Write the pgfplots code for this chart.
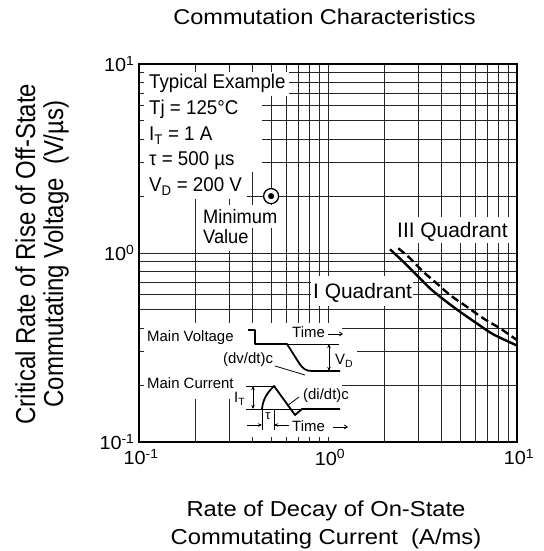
\documentclass[border=0pt]{standalone}
\usepackage{fontspec}
\setmainfont{Liberation Sans}
\newfontfamily\fWide{Liberation Sans}[FakeStretch=1.1]
\newfontfamily\fTick{Liberation Sans}[FakeStretch=1.05]
\newfontfamily\fNarrow{Liberation Sans}[FakeStretch=0.94]
\newfontfamily\fYlab{Liberation Sans}[FakeStretch=0.875]
\usepackage{pgfplots}
\pgfplotsset{compat=1.18}
\usetikzlibrary{arrows.meta}

\pgfplotstableread{
x y
2.128 1.046
2.503 0.899
2.946 0.765
3.465 0.650
4.074 0.569
4.99  0.489
6.12  0.4246
7.49  0.3713
10    0.324
}\quadI
\pgfplotstableread{
x y
2.355 1.059
2.716 0.938
3.19  0.796
3.76  0.691
4.42  0.5995
5.42  0.520
6.63  0.451
8.13  0.3996
10    0.346
}\quadIII

\begin{document}
\begin{tikzpicture}
\useasboundingbox (0,0) rectangle (544bp,551bp);
\begin{axis}[
  at={(139bp,109bp)}, anchor=south west,
  width=378bp, height=378bp, scale only axis,
  xmode=log, ymode=log,
  xmin=0.1, xmax=10, ymin=0.1, ymax=10,
  xtick={0.1,1,10}, ytick={0.1,1,10},
  minor xtick={0.2,0.3,0.4,0.5,0.6,0.7,0.8,0.9,2,3,4,5,6,7,8,9},
  minor ytick={0.2,0.3,0.4,0.5,0.6,0.7,0.8,0.9,2,3,4,5,6,7,8,9},
  xticklabels={10\textsuperscript{-1},10\textsuperscript{0},10\textsuperscript{1}},
  yticklabels={10\textsuperscript{-1},10\textsuperscript{0},10\textsuperscript{1}},
  grid=both,
  major grid style={draw=black!85, line width=0.9bp},
  minor grid style={draw=black!85, line width=0.9bp},
  major tick length=0pt, minor tick length=0pt,
  axis line style={line width=2.2bp},
  tick label style={font=\fTick\fontsize{19}{19}\selectfont},
  xticklabel style={yshift=-4bp, xshift=2bp},
  yticklabel style={xshift=-1bp},
]
\addplot[black, line width=2.4bp, smooth, no markers] table {\quadI};
\addplot[black, line width=2.4bp, smooth, no markers, dash pattern=on 8bp off 4bp] table {\quadIII};
\addplot[only marks, mark=*, mark size=7.5bp, mark options={fill=white, draw=black, line width=1.3bp}] coordinates {(0.5,2)};
\addplot[only marks, mark=*, mark size=2.8bp, mark options={fill=black, draw=black}] coordinates {(0.5,2)};
\end{axis}

\begin{scope}[x=1bp, y=-1bp, yshift=551bp]
% titles and axis labels
\node[anchor=base, inner sep=0] at (324.5,25) {\fWide\fontsize{21.5}{21.5}\selectfont Commutation Characteristics};
\node[anchor=base, inner sep=0] at (326,517) {\fWide\fontsize{21.7}{21.7}\selectfont Rate of Decay of On-State};
\node[anchor=base, inner sep=0] at (326,545) {\fWide\fontsize{21.7}{21.7}\selectfont Commutating Current\ \ (A/ms)};
\node[anchor=base, inner sep=0, rotate=90] at (35,254) {\fYlab\fontsize{27.5}{27.5}\selectfont Critical Rate of Rise of Off-State};
\node[anchor=base, inner sep=0, rotate=90] at (63,254) {\fYlab\fontsize{27.5}{27.5}\selectfont Commutating Voltage\ \ (V/µs)};

% white backgrounds
\fill[white] (144,72) rectangle (289,96);
\fill[white] (144,96) rectangle (262,172);
\fill[white] (144,172) rectangle (247,199);
\fill[white] (200,205) rectangle (279,228);
\fill[white] (200,228) rectangle (252,251);
\fill[white] (393,217) rectangle (511,243);
\fill[white] (311,276) rectangle (413,306);
\fill[white] (144,323) rectangle (342,399);
\fill[white] (231,323) rectangle (342,437);
\fill[white] (342,343) rectangle (357,373);
\fill[white] (342,418) rectangle (352,437);

% Typical example block
\begingroup
\fNarrow\fontsize{20}{20}\selectfont
\node[anchor=base west, inner sep=0] at (149,89) {Typical Example};
\node[anchor=base west, inner sep=0] at (149,115) {Tj = 125°C};
\node[anchor=base west, inner sep=0] at (149,141) {I\textsubscript{T} = 1 A};
\node[anchor=base west, inner sep=0] at (149,166) {τ = 500 µs};
\node[anchor=base west, inner sep=0] at (149,192) {V\textsubscript{D} = 200 V};
\endgroup
\begingroup
\fNarrow\fontsize{19.5}{19.5}\selectfont
\node[anchor=base west, inner sep=0] at (203,224) {Minimum};
\node[anchor=base west, inner sep=0] at (203,244) {Value};
\endgroup
\begingroup
\fontsize{21}{21}\selectfont
\node[anchor=base west, inner sep=0] at (397,238) {III Quadrant};
\node[anchor=base west, inner sep=0] at (313,299) {I Quadrant};
\endgroup

% inset diagram
\begingroup
\fontsize{15}{15}\selectfont
\node[anchor=base west, inner sep=0] at (147,342) {Main Voltage};
\node[anchor=base west, inner sep=0] at (147,389) {Main Current};
\node[anchor=base west, inner sep=0] at (292,338) {Time};
\node[anchor=base west, inner sep=0] at (292,432) {Time};
\node[anchor=base west, inner sep=0] at (223,364) {(dv/dt)c};
\node[anchor=base west, inner sep=0] at (303,400) {(di/dt)c};
\node[anchor=base west, inner sep=0] at (335,365) {V\textsubscript{D}};
\node[anchor=base west, inner sep=0] at (234,403) {I\textsubscript{T}};
\node[anchor=center, inner sep=0] at (268,416) {\fontsize{13}{13}\selectfont τ};
\endgroup
% thin reference lines
\draw[line width=0.8bp] (287,344) -- (339,344);
\draw[line width=0.8bp] (246,386) -- (274,386);
\draw[line width=0.8bp] (246,409) -- (339,409);
\draw[line width=0.8bp] (262,409) -- (262,430);
\draw[line width=0.8bp] (274,409) -- (274,430);
\draw[line width=0.8bp] (275,366) -- (305,375);
\draw[line width=0.8bp] (299,397) -- (287,406);
\draw[line width=0.8bp, {Stealth[length=4bp,width=3.5bp]}-{Stealth[length=4bp,width=3.5bp]}] (329,344) -- (329,371);
\draw[line width=0.8bp, {Stealth[length=4bp,width=3.5bp]}-{Stealth[length=4bp,width=3.5bp]}] (253,386) -- (253,409);
\draw[line width=0.8bp, -{Stealth[length=4bp,width=3.5bp]}] (247,425) -- (262,425);
\draw[line width=0.8bp, -{Stealth[length=4bp,width=3.5bp]}] (289,425) -- (274,425);
\draw[line width=0.8bp, -{Straight Barb[length=3bp,width=4bp]}] (328,334) -- (343,334);
\draw[line width=0.8bp, -{Straight Barb[length=3bp,width=4bp]}] (333,427) -- (348,427);
% thick waveforms
\draw[line width=1.8bp, line join=round] (248,330) -- (255,330) -- (255,344) -- (287,344) -- (299,363) .. controls (303,369) and (306,371) .. (312,371) -- (340,371);
\draw[line width=1.8bp, line join=round] (262,409) .. controls (263,400) and (266,394) .. (274,386) -- (295,415) -- (302,409) -- (340,409);
\end{scope}
\end{tikzpicture}
\end{document}
